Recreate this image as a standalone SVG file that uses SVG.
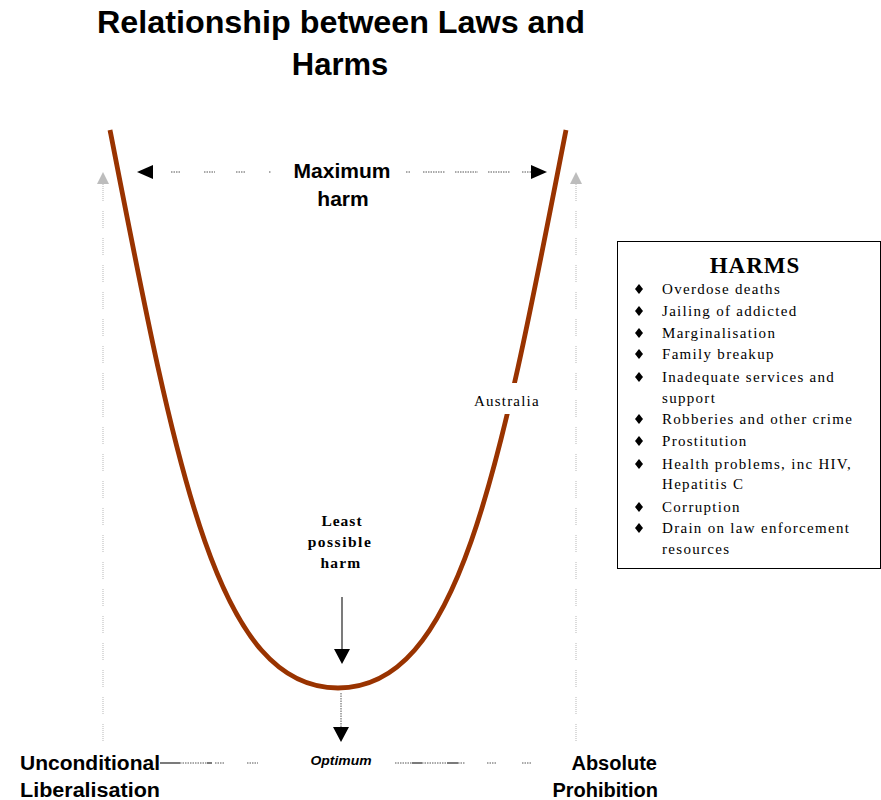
<svg xmlns="http://www.w3.org/2000/svg" width="881" height="800" viewBox="0 0 881 800">
<style>
.sans{font-family:"Liberation Sans",Arial,sans-serif;font-weight:bold;fill:#000}
.serif{font-family:"Liberation Serif","Times New Roman",serif;fill:#000}
.item{font-size:15px;letter-spacing:1.3px}
.gray{stroke:#c4c4c4;stroke-width:1.2;stroke-dasharray:1 1 1 1 1 1 1 1 1 1 1 1 1 1 1 1 1 10;fill:none}
.dots{stroke:#555;stroke-width:1;stroke-dasharray:1.5 1;fill:none}
.solid{stroke:#333;stroke-width:1.3;fill:none}
</style>
<rect width="881" height="800" fill="#fff"/>
<g id="title">
<text class="sans" x="341" y="33" font-size="31" text-anchor="middle" textLength="488" lengthAdjust="spacingAndGlyphs">Relationship between Laws and</text>
<text class="sans" x="340" y="75" font-size="31" text-anchor="middle">Harms</text>
</g>
<g id="axes">
<line class="gray" x1="103" y1="184" x2="103" y2="742"/>
<polygon points="103,172 97,184 109,184" fill="#bdbdbd"/>
<line class="gray" x1="576" y1="184" x2="576" y2="742"/>
<polygon points="576,172 570,184 582,184" fill="#bdbdbd"/>
</g>
<g id="curve">
<path d="M110,130 C178,480 218,688 338,688 C458,688 498,480 566,130" fill="none" stroke="#993300" stroke-width="4.8"/>
<rect x="495" y="383" width="40" height="31" fill="#fff"/>
</g>
<g id="connectors">
<line class="dots" x1="171" y1="172" x2="181" y2="172"/>
<line class="dots" x1="204" y1="172" x2="215" y2="172"/>
<line class="dots" x1="236" y1="172" x2="246" y2="172"/>
<line class="dots" x1="269" y1="172" x2="271" y2="172"/>
<polygon points="137,172 153,165 153,179" fill="#000"/>
<line class="dots" x1="406" y1="172" x2="411" y2="172"/>
<line class="dots" x1="423" y1="172" x2="445" y2="172"/>
<line class="dots" x1="455" y1="172" x2="478" y2="172"/>
<line class="dots" x1="488" y1="172" x2="510" y2="172"/>
<line class="dots" x1="522" y1="172" x2="533" y2="172"/>
<polygon points="547,172 531,165 531,179" fill="#000"/>
<line class="solid" x1="342" y1="597" x2="342" y2="650"/>
<polygon points="342,664 334,649 350,649" fill="#000"/>
<line class="dots" x1="341" y1="693" x2="341" y2="728" stroke="#333"/>
<polygon points="341,742 333,727 349,727" fill="#000"/>
<line class="solid" x1="160" y1="763" x2="180" y2="763"/>
<line class="dots" x1="180" y1="763" x2="207" y2="763"/>
<line class="solid" x1="207" y1="763" x2="212" y2="763"/>
<line class="dots" x1="215" y1="763" x2="225" y2="763"/>
<line class="dots" x1="247" y1="763" x2="258" y2="763"/>
<line class="dots" x1="395" y1="763" x2="412" y2="763"/>
<line class="solid" x1="412" y1="763" x2="422" y2="763"/>
<line class="dots" x1="422" y1="763" x2="447" y2="763"/>
<line class="solid" x1="447" y1="763" x2="458" y2="763"/>
<line class="dots" x1="458" y1="763" x2="465" y2="763"/>
<line class="dots" x1="487" y1="763" x2="497" y2="763"/>
<line class="dots" x1="522" y1="763" x2="532" y2="763"/>
</g>
<g id="max-harm">
<text class="sans" x="342" y="178" font-size="21" text-anchor="middle">Maximum</text>
<text class="sans" x="343" y="206" font-size="21" text-anchor="middle">harm</text>
</g>
<g id="australia">
<text class="serif" x="474" y="406" font-size="15" letter-spacing="1.2">Australia</text>
</g>
<g id="least-harm" class="serif" font-weight="bold" font-size="15.5" text-anchor="middle">
<text x="342" y="526" letter-spacing="1">Least</text>
<text x="340" y="547" letter-spacing="1.5">possible</text>
<text x="341" y="568" letter-spacing="1.2">harm</text>
</g>
<g id="optimum">
<text class="sans" x="341" y="765" font-size="12.5" font-style="italic" text-anchor="middle" textLength="61" lengthAdjust="spacingAndGlyphs">Optimum</text>
</g>
<g id="left-label">
<text class="sans" x="20" y="770" font-size="20" textLength="140" lengthAdjust="spacingAndGlyphs">Unconditional</text>
<text class="sans" x="20" y="797" font-size="20" textLength="140" lengthAdjust="spacingAndGlyphs">Liberalisation</text>
</g>
<g id="right-label">
<text class="sans" x="657" y="770" font-size="20" text-anchor="end">Absolute</text>
<text class="sans" x="658" y="797" font-size="20" text-anchor="end">Prohibition</text>
</g>
<g id="harms-box">
<rect x="617.5" y="241.5" width="263" height="327" fill="#fff" stroke="#000" stroke-width="1"/>
<text class="serif" x="755" y="273" font-size="23" font-weight="bold" text-anchor="middle" letter-spacing="1">HARMS</text>
<g fill="#000">
<polygon points="639,284 643,289 639,294 635,289"/>
<polygon points="639,306 643,311 639,316 635,311"/>
<polygon points="639,328 643,333 639,338 635,333"/>
<polygon points="639,349 643,354 639,359 635,354"/>
<polygon points="639,372 643,377 639,382 635,377"/>
<polygon points="639,414 643,419 639,424 635,419"/>
<polygon points="639,436 643,441 639,446 635,441"/>
<polygon points="639,459 643,464 639,469 635,464"/>
<polygon points="639,502 643,507 639,512 635,507"/>
<polygon points="639,523 643,528 639,533 635,528"/>
</g>
<g class="serif item">
<text x="662" y="294">Overdose deaths</text>
<text x="662" y="316">Jailing of addicted</text>
<text x="662" y="338">Marginalisation</text>
<text x="662" y="359">Family breakup</text>
<text x="662" y="382">Inadequate services and</text>
<text x="662" y="403">support</text>
<text x="662" y="424">Robberies and other crime</text>
<text x="662" y="446">Prostitution</text>
<text x="662" y="469">Health problems, inc HIV,</text>
<text x="662" y="489">Hepatitis C</text>
<text x="662" y="512">Corruption</text>
<text x="662" y="533">Drain on law enforcement</text>
<text x="662" y="554">resources</text>
</g>
</g>
</svg>
